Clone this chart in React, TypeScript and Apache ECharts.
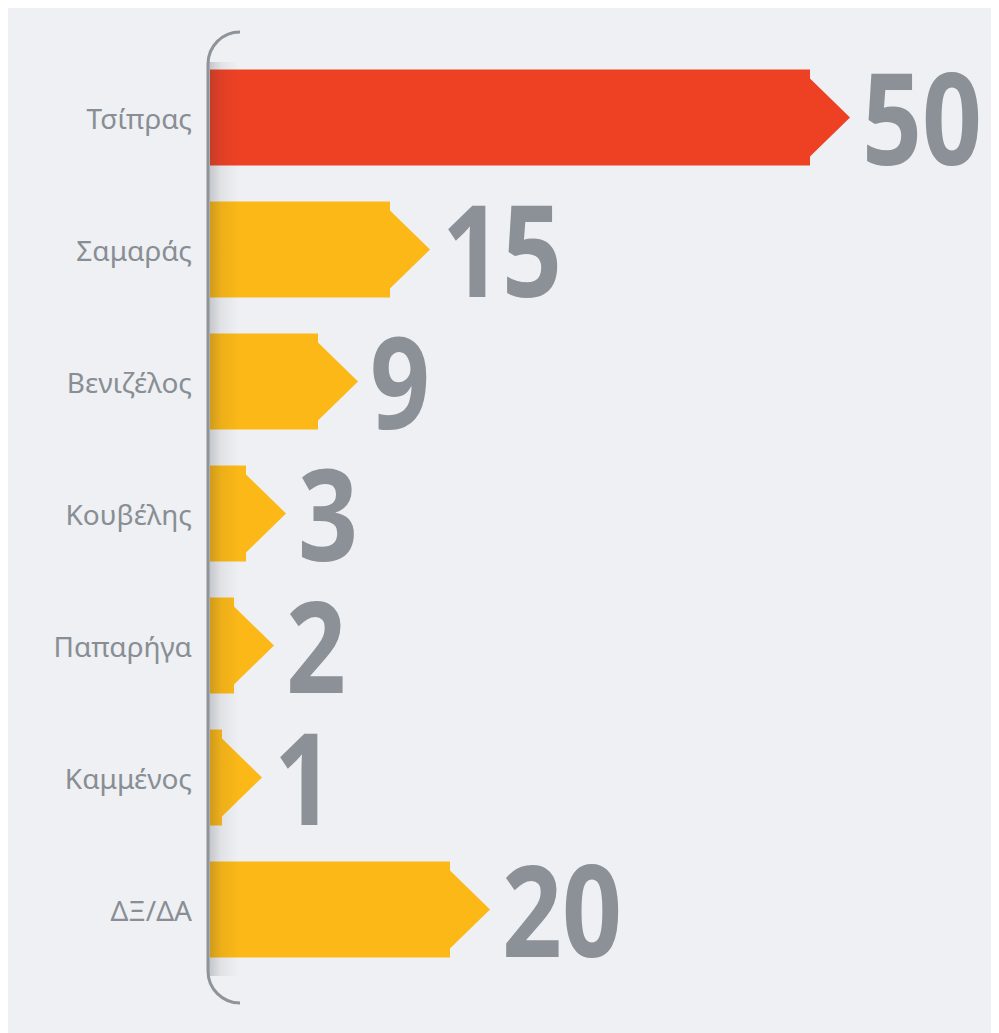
import React, { useEffect, useRef } from "react";
import * as echarts from "echarts";

const categories = ["Τσίπρας", "Σαμαράς", "Βενιζέλος", "Κουβέλης", "Παπαρήγα", "Καμμένος", "ΔΞ/ΔΑ"];
const values = [50, 15, 9, 3, 2, 1, 20];
const barColors = ["#ee4124", "#fbb817", "#fbb817", "#fbb817", "#fbb817", "#fbb817", "#fbb817"];

const BG = "#eef0f3";
const GRAY = "#8b9197";
const LABEL_GRAY = "#888e93";

export default function App() {
  const ref = useRef<HTMLDivElement>(null);
  useEffect(() => {
    if (!ref.current) return;
    const chart = echarts.init(ref.current, null, { renderer: "svg" });
    const HEAD = 40;
    const NOTCH = 9;
    const BAR_H = 96;
    chart.setOption({
      animation: false,
      backgroundColor: BG,
      grid: { left: 202, right: 9, top: 43.5, height: 924 },
      xAxis: { type: "value", min: 0, max: 65, show: false },
      yAxis: {
        type: "category",
        data: categories,
        inverse: true,
        axisLine: { show: false },
        axisTick: { show: false },
        splitLine: { show: false },
        axisLabel: {
          fontSize: 28,
          color: LABEL_GRAY,
          fontFamily: "Noto Sans",
          margin: 18,
        },
      },
      series: [
        {
          type: "custom",
          data: values.map((v, i) => [v, i]),
          renderItem: (params: any, api: any) => {
            const v = api.value(0);
            const idx = api.value(1);
            const end = api.coord([v, idx]);
            const start = api.coord([0, idx]);
            const x0 = start[0];
            const xe = end[0];
            const cy = end[1];
            const top = cy - BAR_H / 2;
            const bot = cy + BAR_H / 2;
            const tip = xe + HEAD;
            return {
              type: "group",
              children: [
                {
                  type: "polygon",
                  shape: {
                    points: [
                      [x0, top],
                      [xe, top],
                      [xe, top + NOTCH],
                      [tip, cy],
                      [xe, bot - NOTCH],
                      [xe, bot],
                      [x0, bot],
                    ],
                  },
                  style: { fill: barColors[params.dataIndex] },
                },
                {
                  type: "text",
                  x: tip + 12,
                  y: cy - 2,
                  scaleX: 0.82,
                  style: {
                    text: String(v),
                    x: 0,
                    y: 0,
                    verticalAlign: "middle",
                    align: "left",
                    fontSize: 128,
                    fontWeight: "bold",
                    fontFamily: "Open Sans",
                    fill: GRAY,
                  },
                },
              ],
            };
          },
        },
      ],
      graphic: [
        {
          type: "rect",
          z: 10,
          shape: { x: 201, y: 54, width: 30, height: 914 },
          style: {
            fill: new echarts.graphic.LinearGradient(0, 0, 1, 0, [
              { offset: 0, color: "rgba(40,45,55,0.22)" },
              { offset: 0.4, color: "rgba(40,45,55,0.07)" },
              { offset: 1, color: "rgba(40,45,55,0)" },
            ]),
          },
        },
        {
          type: "arc",
          z: 11,
          shape: { cx: 232, cy: 56, r: 32, startAngle: Math.PI, endAngle: Math.PI * 1.5 },
          style: { stroke: "#8e949a", lineWidth: 3, fill: "none" },
        },
        {
          type: "line",
          z: 11,
          shape: { x1: 200, y1: 56, x2: 200, y2: 963 },
          style: { stroke: "#8e949a", lineWidth: 3 },
        },
        {
          type: "arc",
          z: 11,
          shape: { cx: 232, cy: 963, r: 32, startAngle: Math.PI / 2, endAngle: Math.PI },
          style: { stroke: "#8e949a", lineWidth: 3, fill: "none" },
        },
      ],
    });
    return () => chart.dispose();
  }, []);
  return <div ref={ref} style={{ width: 991, height: 1025 }} />;
}
